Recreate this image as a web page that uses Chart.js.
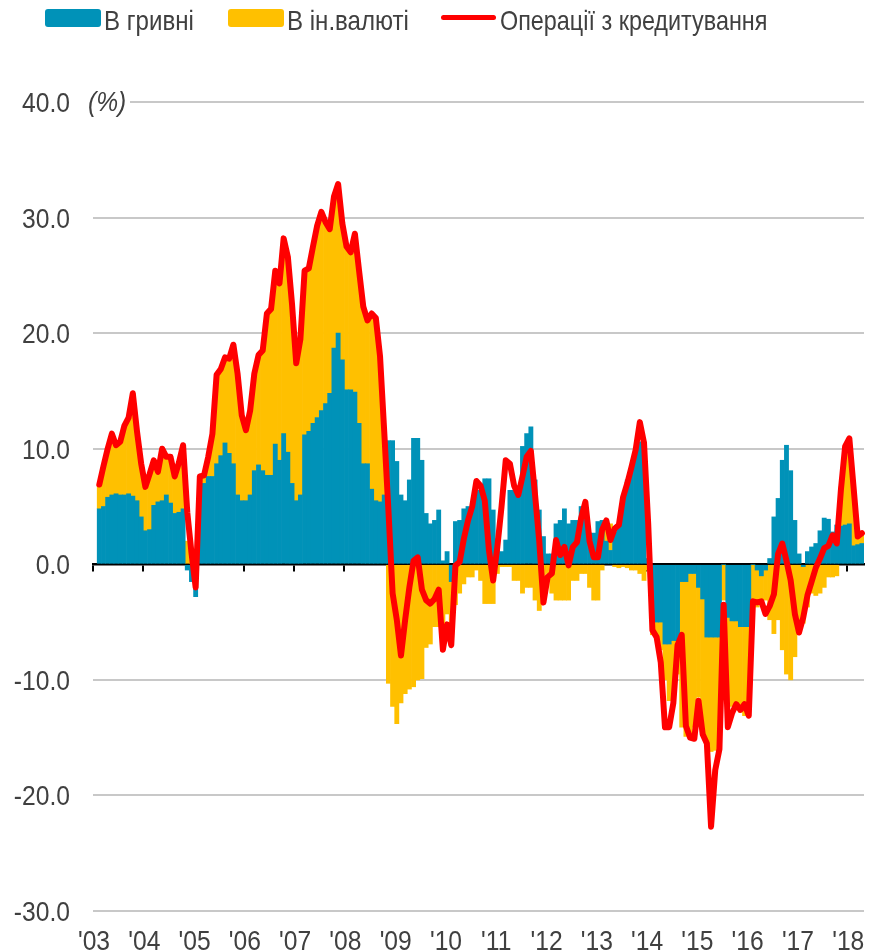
<!DOCTYPE html>
<html><head><meta charset="utf-8">
<script src="https://cdn.jsdelivr.net/npm/chart.js@4.4.1/dist/chart.umd.min.js"></script>
<style>
html,body{margin:0;padding:0;background:#fff;}
#wrap{position:relative;width:869px;height:952px;overflow:hidden;}
canvas{position:absolute;left:0;top:0;}
.lg{position:absolute;font-family:'Liberation Sans',Arial,sans-serif;font-size:28px;line-height:28px;color:#404040;white-space:nowrap;transform:scaleX(0.86);transform-origin:0 0;}
.box{position:absolute;border-radius:3px;}
</style></head>
<body><div id="wrap">
<canvas id="c" width="869" height="952"></canvas>
<div class="box" style="left:45px;top:9px;width:56px;height:18px;background:#0092b8"></div>
<div class="lg" style="left:104px;top:7px">В гривні</div>
<div class="box" style="left:228px;top:9px;width:56px;height:18px;background:#ffc000"></div>
<div class="lg" style="left:287px;top:7px">В ін.валюті</div>
<div class="box" style="left:441px;top:15px;width:55px;height:5px;background:#ff0000;border-radius:3px"></div>
<div class="lg" style="left:500px;top:7px;transform:scaleX(0.835)">Операції з кредитування</div>
</div>
<script>
const FONT = "'Liberation Sans', Arial, sans-serif";
const TEXT = '#404040';
const NUM_SCALE = 0.88;

const yearLabels = ["'03","'04","'05","'06","'07","'08","'09","'10","'11","'12","'13","'14","'15","'16","'17","'18"];
const monthsPerYear = ['01','02','03','04','05','06','07','08','09','10','11','12'];
const lastYearMonths = 4;

const yTicks = [-30, -20, -10, 0, 10, 20, 30, 40];

// В гривні (UAH loans), %
const uah = [
 null, 4.8, 5.0, 5.8, 6.0, 6.1, 6.0, 6.0, 6.1, 5.9, 5.5, 4.1,
 2.9, 3.0, 5.1, 5.4, 5.5, 6.0, 5.3, 4.4, 4.5, 4.8, -0.5, -1.5,
 -2.8, 6.5, 7.0, 7.6, 7.6, 8.7, 9.4, 10.5, 9.6, 8.7, 6.0, 5.5,
 5.5, 6.0, 8.1, 8.6, 8.1, 7.7, 7.7, 10.4, 9.0, 11.3, 9.7, 7.0,
 5.5, 6.0, 11.2, 11.5, 12.2, 12.7, 13.3, 13.9, 14.8, 18.7, 20.0, 17.7,
 15.1, 15.1, 14.9, 12.2, 8.7, 8.7, 6.5, 5.5, 5.4, 6.0, 10.7, 10.7,
 8.9, 6.0, 5.5, 7.3, 10.9, 10.9, 9.0, 4.4, 3.5, 3.8, 4.7, 0.3,
 1.1, -1.5, 3.7, 3.8, 4.8, 5.0, 5.0, 6.4, 6.4, 7.4, 7.4, 4.7,
 2.2, 1.1, 2.1, 6.4, 6.4, 6.7, 10.2, 11.3, 11.9, 7.3, 4.7, 2.4,
 0.9, 0.9, 3.5, 3.8, 4.8, 3.5, 3.8, 3.8, 5.0, 4.0, 2.7, 2.7,
 3.7, 3.8, 2.0, 1.2, 2.8, 3.2, 5.5, 7.3, 8.4, 9.9, 10.6, 10.6,
 0.5, -4.8, -5.0, -5.0, -6.9, -6.9, -6.6, -6.6, -1.5, -1.5, -0.8, -0.8,
 -2.0, -3.0, -6.3, -6.3, -6.3, -6.3, 0.0, -4.6, -4.9, -4.9, -5.4, -5.4,
 -5.4, 0.0, -0.5, -1.0, -0.5, 0.5, 4.1, 5.7, 9.0, 10.3, 8.1, 3.8,
 0.9, -0.2, 1.1, 1.5, 1.8, 2.9, 4.0, 3.9, 2.8, 3.4, 3.3, 3.4,
 3.5, 1.6, 1.7, 1.8
];

// В ін.валюті (FX loans), %
const fx = [
 null, 2.1, 3.5, 4.2, 5.3, 4.2, 4.6, 6.0, 6.6, 8.9, 6.0, 4.6,
 3.8, 4.8, 3.9, 2.6, 4.5, 3.3, 4.0, 3.2, 4.3, 5.5, 2.0, 1.2,
 0.3, 1.1, 0.7, 1.7, 3.7, 7.7, 7.5, 7.4, 8.2, 10.3, 10.5, 7.4,
 6.1, 7.3, 8.4, 9.5, 10.4, 14.0, 14.4, 15.0, 15.3, 16.9, 16.9, 15.5,
 11.9, 13.5, 14.2, 14.1, 15.3, 16.6, 17.2, 15.7, 14.2, 13.1, 12.9, 11.8,
 12.4, 11.9, 13.7, 13.2, 13.6, 12.4, 15.2, 15.8, 12.6, 5.5, -10.3, -12.3,
 -13.8, -12.0, -11.2, -10.8, -10.6, -10.0, -9.9, -7.2, -6.9, -5.4, -5.4, -7.0,
 -4.3, -4.0, -3.5, -2.5, -1.7, -1.1, -1.1, -0.5, -1.4, -3.4, -3.4, -3.4,
 -0.8, -0.2, -0.2, -0.2, -1.4, -1.4, -2.5, -2.0, -2.0, -3.1, -4.0, -3.0,
 -0.8, -2.5, -3.1, -3.1, -3.1, -3.1, -1.4, -1.4, -0.8, -0.8, -2.0, -3.1,
 -3.1, -0.5, 1.8, 2.3, -0.2, -0.3, -0.2, -0.3, -0.5, -0.5, -0.8, -1.4,
 -0.5, -1.3, -1.3, -2.4, -3.1, -4.9, -5.2, -2.9, -12.6, -13.4, -13.9, -13.3,
 -9.5, -11.5, -9.1, -9.9, -9.8, -9.5, -3.1, -8.5, -7.4, -7.6, -7.4, -7.7,
 -7.1, -3.1, -3.2, -2.1, -2.6, -4.8, -6.0, -4.8, -7.4, -9.5, -10.0, -8.0,
 -6.0, -4.9, -3.7, -2.5, -2.7, -2.5, -2.0, -1.1, -1.1, -1.0, 3.4, 6.8,
 7.4, 5.1, 0.7, 0.9
];

// Операції з кредитування, %
const credit = [
 null, 6.9, 8.5, 10.0, 11.3, 10.3, 10.6, 12.0, 12.7, 14.8, 11.5, 8.7,
 6.7, 7.8, 9.0, 8.0, 10.0, 9.3, 9.3, 7.6, 8.8, 10.3, 4.5, 1.0,
 -2.0, 7.6, 7.7, 9.3, 11.3, 16.4, 16.9, 17.9, 17.8, 19.0, 16.5, 12.9,
 11.6, 13.3, 16.5, 18.1, 18.5, 21.7, 22.1, 25.4, 24.3, 28.2, 26.6, 22.5,
 17.4, 19.5, 25.4, 25.6, 27.5, 29.3, 30.5, 29.6, 29.0, 31.8, 32.9, 29.5,
 27.5, 27.0, 28.6, 25.4, 22.3, 21.1, 21.7, 21.3, 18.0, 11.5, 4.7, -2.5,
 -4.8, -7.9, -4.8, -2.0, 0.3, 0.6, -2.2, -3.1, -3.4, -3.0, -2.2, -7.4,
 -5.2, -7.0, -0.1, 0.2, 2.2, 3.8, 5.0, 7.2, 6.8, 5.5, 1.2, -1.4,
 1.5, 5.0, 9.0, 8.7, 6.8, 6.0, 7.6, 9.3, 9.8, 6.0, 2.0, -3.3,
 -1.1, -0.8, 2.1, 0.8, 1.5, -0.1, 1.5, 1.9, 4.0, 5.4, 2.0, 0.6,
 0.6, 3.0, 3.8, 2.1, 3.1, 3.4, 5.8, 7.0, 8.4, 9.9, 12.3, 10.5,
 3.5, -5.7, -6.3, -8.5, -14.1, -14.1, -12.0, -7.0, -6.1, -14.0, -15.0, -15.1,
 -11.8, -14.7, -15.5, -22.7, -17.8, -16.0, -3.5, -14.1, -12.9, -12.1, -12.6, -12.1,
 -13.1, -3.2, -3.3, -3.2, -4.3, -3.6, -2.6, 0.9, 1.8, 0.3, -1.4, -4.3,
 -5.9, -4.6, -2.7, -1.5, -0.3, 0.5, 1.4, 1.6, 2.5, 1.8, 6.5, 10.2,
 10.9, 6.7, 2.4, 2.7
];

// category labels (year-month)
const categories = [];
yearLabels.forEach((y, yi) => {
  const n = yi === yearLabels.length - 1 ? lastYearMonths : 12;
  for (let m = 0; m < n; m++) categories.push(y + '-' + monthsPerYear[m]);
});

function narrowText(ctx, text, x, y, align, sx) {
  ctx.save();
  ctx.translate(x, y);
  ctx.scale(sx, 1);
  ctx.textAlign = align;
  ctx.textBaseline = 'alphabetic';
  ctx.fillText(text, 0, 0);
  ctx.restore();
}

// axis labels drawn from the chart's own scales, in a narrow (condensed) style
const axisLabelPlugin = {
  id: 'axisLabels',
  afterDraw(chart) {
    const {ctx, scales: {x, y}, chartArea} = chart;
    ctx.save();
    ctx.fillStyle = TEXT;
    ctx.font = '28px ' + FONT;
    yTicks.forEach(v => {
      narrowText(ctx, v.toFixed(1), chartArea.left - 23, y.getPixelForValue(v) + 10, 'right', NUM_SCALE);
    });
    const half = (x.getPixelForTick(1) - x.getPixelForTick(0)) / 2;
    yearLabels.forEach((lbl, k) => {
      const px = x.getPixelForTick(k * 12) - half + 1;
      narrowText(ctx, lbl, px, chart.height - 2, 'center', NUM_SCALE);
    });
    // unit label next to the top gridline
    const py = y.getPixelForValue(yTicks[yTicks.length - 1]);
    ctx.fillStyle = '#fff';
    ctx.fillRect(chartArea.left - 2, py - 3, 132 - chartArea.left, 6);
    ctx.fillStyle = TEXT;
    ctx.font = 'italic 28px ' + FONT;
    narrowText(ctx, '(%)', 88, py + 9, 'left', NUM_SCALE);
    ctx.restore();
  }
};

new Chart(document.getElementById('c'), {
  data: {
    labels: categories,
    datasets: [
      { type: 'line', label: 'Операції з кредитування', data: credit, borderColor: '#ff0000',
        borderWidth: 6, pointRadius: 0, pointHoverRadius: 0, tension: 0, stack: 'line', order: 0,
        borderJoinStyle: 'round', borderCapStyle: 'round', xAxisID: 'x', yAxisID: 'y' },
      { type: 'bar', label: 'В гривні', data: uah, backgroundColor: '#0092b8', stack: 'bars', order: 1,
        barPercentage: 1, categoryPercentage: 1, borderWidth: 0, xAxisID: 'x', yAxisID: 'y' },
      { type: 'bar', label: 'В ін.валюті', data: fx, backgroundColor: '#ffc000', stack: 'bars', order: 2,
        barPercentage: 1, categoryPercentage: 1, borderWidth: 0, xAxisID: 'x', yAxisID: 'y' }
    ]
  },
  options: {
    responsive: false,
    animation: false,
    devicePixelRatio: 1,
    layout: { padding: { top: 102, right: 5, left: 0, bottom: 0 } },
    plugins: { legend: { display: false }, tooltip: { enabled: false } },
    scales: {
      x: {
        type: 'category', stacked: true, offset: true,
        grid: { display: false }, border: { display: false },
        ticks: { display: false, autoSkip: false },
        afterFit: s => { s.height = 41; }
      },
      x0: {
        type: 'category', position: { y: 0 }, offset: true,
        grid: {
          offset: true, drawOnChartArea: false, drawTicks: true, tickLength: 6, lineWidth: 2,
          color: c => (c.index !== undefined && c.index % 12 === 0) ? '#000' : 'rgba(0,0,0,0)'
        },
        border: { display: true, color: '#000', width: 2.5 },
        ticks: { display: false, autoSkip: false }
      },
      y: {
        stacked: true, min: yTicks[0], max: yTicks[yTicks.length - 1],
        afterBuildTicks: s => { s.ticks = yTicks.map(v => ({ value: v })); },
        ticks: { display: false },
        grid: {
          drawTicks: false, lineWidth: 2,
          color: c => (c.tick && c.tick.value === 0) ? 'rgba(0,0,0,0)' : '#c8c8c8'
        },
        border: { display: false },
        afterFit: s => { s.width = 93; }
      }
    }
  },
  plugins: [axisLabelPlugin]
});
</script>
</body></html>
